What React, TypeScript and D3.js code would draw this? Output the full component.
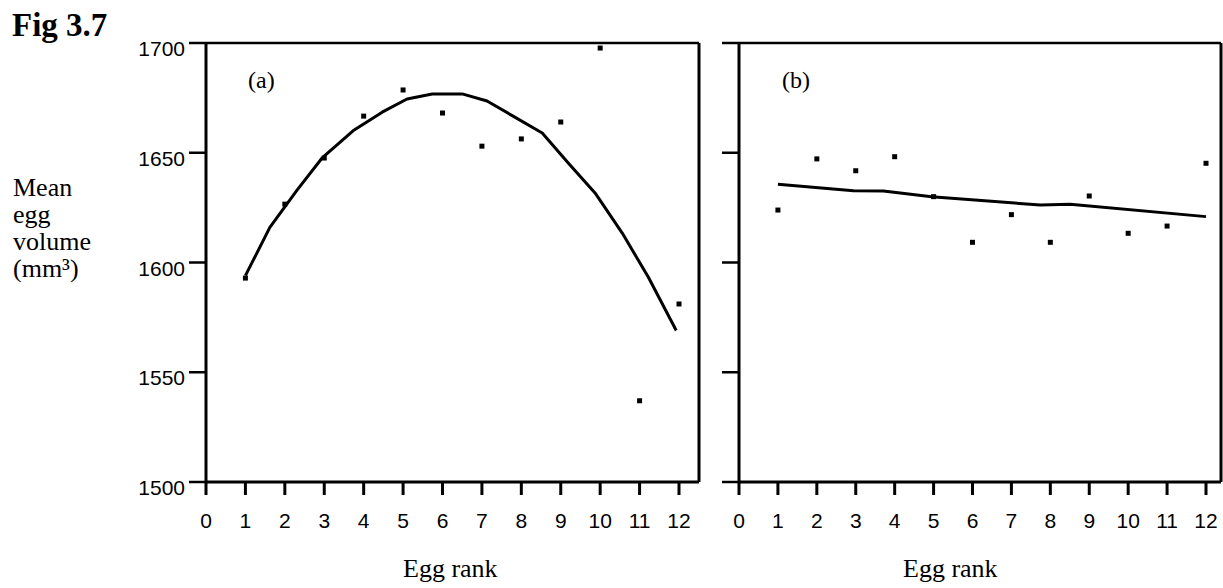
import React from "react";
import * as d3 from "d3";

// Egg rank positions and tick labels
const ranks = [1, 2, 3, 4, 5, 6, 7, 8, 9, 10, 11, 12];
const xTicks = [0, 1, 2, 3, 4, 5, 6, 7, 8, 9, 10, 11, 12];
const yTicks = [1500, 1550, 1600, 1650, 1700];

// Panel (a): mean egg volume per rank (mm³)
const volumeA = [1592.9, 1626.6, 1647.6, 1666.7, 1678.6, 1668.1, 1653, 1656.3, 1664, 1697.7, 1537, 1581.1];
// Panel (a): fitted curve vertices [rank, volume]
const fitA: [number, number][] = [
  [1, 1594], [1.62, 1616], [2.31, 1633], [2.94, 1647.5], [3.73, 1660], [4.47, 1668.5],
  [5.1, 1674.5], [5.74, 1676.8], [6.5, 1676.8], [7.13, 1673.6], [7.79, 1666.7],
  [8.53, 1659], [9.19, 1645.3], [9.87, 1631.7], [10.56, 1613.4], [11.22, 1593.4], [11.93, 1569],
];

// Panel (b): mean egg volume per rank (mm³)
const volumeB = [1623.9, 1647.2, 1641.8, 1648.2, 1630, 1609.2, 1621.8, 1609.2, 1630.3, 1613.3, 1616.6, 1645.2];
// Panel (b): fitted line vertices [rank, volume]
const fitB: [number, number][] = [
  [1, 1635.6], [2.94, 1632.7], [3.71, 1632.6], [4.95, 1630], [7.74, 1626.2], [8.51, 1626.5], [12, 1620.9],
];

const W = 1223;
const H = 588;
const yTop = 43;
const yBottom = 482;

const y = d3.scaleLinear().domain([1500, 1700]).range([yBottom, yTop]);

const sans = "'Liberation Sans', Arial, sans-serif";
const serif = "'Liberation Serif', 'Times New Roman', serif";

type PanelProps = {
  x: d3.ScaleLinear<number, number>;
  right: number;
  values: number[];
  fit: [number, number][];
  tag: string;
  tagX: number;
  showYLabels: boolean;
  titleX: number;
};

function Panel({ x, right, values, fit, tag, tagX, showYLabels, titleX }: PanelProps) {
  const left = x(0);
  const line = d3
    .line<[number, number]>()
    .x((d) => x(d[0]))
    .y((d) => y(d[1]));
  return (
    <g>
      {/* frame */}
      <line x1={left} x2={right} y1={yTop} y2={yTop} stroke="#000" strokeWidth={2.5} />
      <line x1={right} x2={right} y1={yTop} y2={yBottom} stroke="#000" strokeWidth={3} />
      <line x1={left} x2={left} y1={yTop - 1} y2={yBottom + 1.5} stroke="#000" strokeWidth={3} />
      <line x1={left} x2={right} y1={yBottom} y2={yBottom} stroke="#000" strokeWidth={3} />
      {/* y ticks */}
      {yTicks.map((t) => (
        <g key={t}>
          <line x1={left - 17} x2={left} y1={y(t)} y2={y(t)} stroke="#000" strokeWidth={2.5} />
          {showYLabels && (
            <text x={left - 21} y={y(t) + 13} textAnchor="end" fontFamily={sans} fontSize={21}>
              {t}
            </text>
          )}
        </g>
      ))}
      {/* x ticks */}
      {xTicks.map((t) => (
        <g key={t}>
          <line x1={x(t)} x2={x(t)} y1={yBottom} y2={yBottom + 13} stroke="#000" strokeWidth={3} />
          <text x={x(t)} y={528} textAnchor="middle" fontFamily={sans} fontSize={21}>
            {t}
          </text>
        </g>
      ))}
      <text x={titleX} y={577} fontFamily={serif} fontSize={26}>
        Egg rank
      </text>
      <text x={tagX} y={88} fontFamily={serif} fontSize={24}>
        {tag}
      </text>
      <path d={line(fit) ?? ""} fill="none" stroke="#000" strokeWidth={3} strokeLinejoin="round" />
      {values.map((v, i) => (
        <rect key={i} x={x(ranks[i]) - 2.5} y={y(v) - 2.5} width={5} height={5} fill="#000" />
      ))}
    </g>
  );
}

export default function App() {
  const xA = d3.scaleLinear().domain([0, 12]).range([206, 679]);
  const xB = d3.scaleLinear().domain([0, 12]).range([739, 1206]);
  return (
    <svg
      width={W}
      height={H}
      viewBox={`0 0 ${W} ${H}`}
      style={{ position: "absolute", left: 0, top: 0, background: "#fff" }}
    >
      <rect width={W} height={H} fill="#fff" />
      <text x={12} y={36} fontFamily={serif} fontWeight="bold" fontSize={33}>
        Fig 3.7
      </text>
      <text x={13} y={196} fontFamily={serif} fontSize={26}>Mean</text>
      <text x={13} y={223} fontFamily={serif} fontSize={26}>egg</text>
      <text x={13} y={250} fontFamily={serif} fontSize={26}>volume</text>
      <text x={13} y={277} fontFamily={serif} fontSize={26}>(mm³)</text>
      <Panel x={xA} right={699} values={volumeA} fit={fitA} tag="(a)" tagX={248} showYLabels titleX={403} />
      <Panel x={xB} right={1221} values={volumeB} fit={fitB} tag="(b)" tagX={782} showYLabels={false} titleX={903} />
    </svg>
  );
}
